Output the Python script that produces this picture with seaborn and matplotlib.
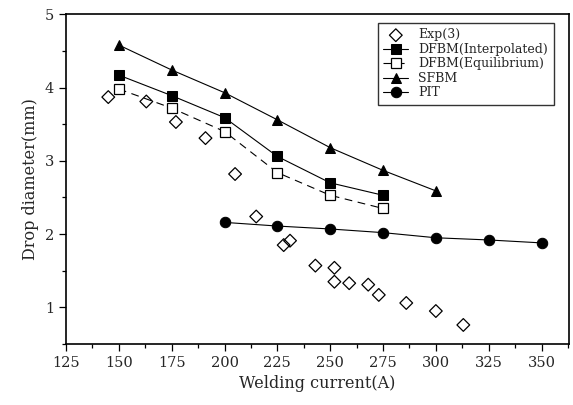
import numpy as np
import pandas as pd
import matplotlib
matplotlib.use("Agg")
import matplotlib.pyplot as plt
from matplotlib.ticker import MultipleLocator
import seaborn as sns

# values
exp_x = [145, 163, 177, 191, 205, 215, 228, 231, 243, 252, 252, 259, 268, 273, 286, 300, 313]
exp_y = [3.87, 3.81, 3.53, 3.31, 2.82, 2.24, 1.85, 1.91, 1.57, 1.54, 1.35, 1.33, 1.31, 1.17, 1.06, 0.95, 0.76]

dfbm_x = [150, 175, 200, 225, 250, 275]
interp_y = [4.17, 3.89, 3.59, 3.06, 2.70, 2.53]
equil_y = [3.98, 3.72, 3.40, 2.84, 2.53, 2.35]

sfbm_x = [150, 175, 200, 225, 250, 275, 300]
sfbm_y = [4.58, 4.24, 3.93, 3.56, 3.18, 2.87, 2.59]

pit_x = [200, 225, 250, 275, 300, 325, 350]
pit_y = [2.16, 2.11, 2.07, 2.02, 1.95, 1.92, 1.88]

sns.set_style("ticks")
plt.rcParams['font.family'] = ['DejaVu Serif']

fig = plt.figure(figsize=(5.73, 4.05), dpi=100)
ax = fig.add_axes([0.1152, 0.1506, 0.8778, 0.8141])

sns.scatterplot(x=exp_x, y=exp_y, marker='D', s=42, facecolor='none',
                edgecolor='black', linewidth=0.9, ax=ax, label='Exp(3)', zorder=3)
sns.lineplot(x=dfbm_x, y=interp_y, color='black', lw=0.8, marker='s', ms=6.5,
             mfc='black', mec='black', ax=ax, label='DFBM(Interpolated)')
sns.lineplot(x=dfbm_x, y=equil_y, color='black', lw=0.8, ls=(0, (7, 5)), marker='s', ms=6.5,
             mfc='white', mec='black', mew=0.9, ax=ax, label='DFBM(Equilibrium)')
sns.lineplot(x=sfbm_x, y=sfbm_y, color='black', lw=0.8, marker='^', ms=7.5,
             mfc='black', mec='black', ax=ax, label='SFBM')
sns.lineplot(x=pit_x, y=pit_y, color='black', lw=0.8, marker='o', ms=7.5,
             mfc='black', mec='black', ax=ax, label='PIT')

ax.set_xlim(125, 363)
ax.set_ylim(0.5, 5)
ax.xaxis.set_major_locator(MultipleLocator(25))
ax.xaxis.set_minor_locator(MultipleLocator(12.5))
ax.yaxis.set_major_locator(MultipleLocator(1))
ax.yaxis.set_minor_locator(MultipleLocator(0.5))
ax.tick_params(which='both', direction='out', color='black', labelsize=10.5, width=0.9)
ax.tick_params(which='major', length=5)
ax.tick_params(which='minor', length=3)
for s in ax.spines.values():
    s.set_linewidth(1.2)
    s.set_color('black')

ax.set_xlabel('Welding current(A)', fontsize=11.5)
ax.set_ylabel('Drop diameter(mm)', fontsize=11.5)

leg = ax.legend(loc='upper right', bbox_to_anchor=(0.982, 0.993), fontsize=9,
                frameon=True, fancybox=False, edgecolor='black', handlelength=2.0,
                labelspacing=0.12, borderpad=0.45, handletextpad=0.8)
leg.get_frame().set_linewidth(1.0)

fig.savefig('out.png', dpi=100)
